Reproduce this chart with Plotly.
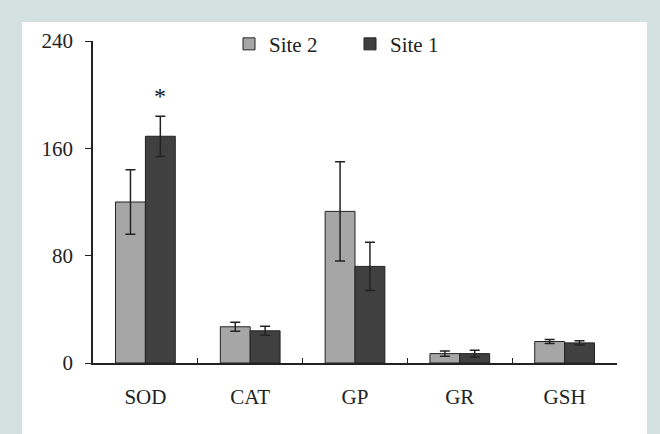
import plotly.graph_objects as go

categories = ["SOD", "CAT", "GP", "GR", "GSH"]
site2_values = [120, 27, 113, 7, 16]
site2_errors = [24, 3.3, 37, 2, 1.5]
site1_values = [169, 24, 72, 7, 15]
site1_errors = [15, 3.3, 18, 2.5, 1.5]
y_ticks = [0, 80, 160, 240]

font_family = "Liberation Serif, Times New Roman, serif"
text_color = "#222222"

fig = go.Figure()
fig.add_trace(go.Bar(
    name="Site 2", x=categories, y=site2_values,
    marker=dict(color="#a6a6a6", line=dict(color="#222222", width=1)),
    error_y=dict(type="data", array=site2_errors, color="#222222", thickness=1.5, width=5),
))
fig.add_trace(go.Bar(
    name="Site 1", x=categories, y=site1_values,
    marker=dict(color="#404040", line=dict(color="#222222", width=1)),
    error_y=dict(type="data", array=site1_errors, color="#222222", thickness=1.5, width=5),
))

# significance marker above SOD, Site 1
fig.add_annotation(
    x=categories[0], y=site1_values[0] + site1_errors[0], xref="x", yref="y",
    text="*", showarrow=False, xshift=15, yshift=20,
    font=dict(family=font_family, size=24, color="#111111"),
)

# white inner panel
fig.add_shape(
    type="rect", xref="paper", yref="paper",
    x0=-93/524 + 22/524, x1=1 + (647-617)/524, y0=-80/322.8, y1=1 + (41-22)/322.8,
    fillcolor="white", line=dict(width=0), layer="below",
)

fig.update_layout(
    width=660, height=434,
    margin=dict(l=93, r=43, t=41, b=70.5),
    paper_bgcolor="#d3e2e1",
    plot_bgcolor="white",
    barmode="group",
    bargap=0.43,
    bargroupgap=0,
    font=dict(family=font_family, size=21, color=text_color),
    showlegend=True,
    legend=dict(
        orientation="h", x=(229-93)/524, y=0.99, xanchor="left", yanchor="middle",
        bgcolor="rgba(0,0,0,0)", font=dict(family=font_family, size=21, color=text_color),
        entrywidth=76, itemwidth=30,
    ),
    xaxis=dict(
        showline=True, linecolor="#222222", linewidth=1.5,
        ticks="inside", tickson="boundaries", ticklen=5, tickcolor="#222222",
        ticklabelstandoff=14, showgrid=False, zeroline=False,
    ),
    yaxis=dict(
        range=[0, 240], tickvals=y_ticks, showline=True, linecolor="#222222", linewidth=1.5,
        ticks="outside", ticklen=6, tickcolor="#222222", ticklabelstandoff=8,
        showgrid=False, zeroline=False,
    ),
)

fig.write_html(
    "out.html",
    config={"displayModeBar": False},
    post_script="document.body.style.margin='0';document.body.style.background='#d3e2e1';",
)
